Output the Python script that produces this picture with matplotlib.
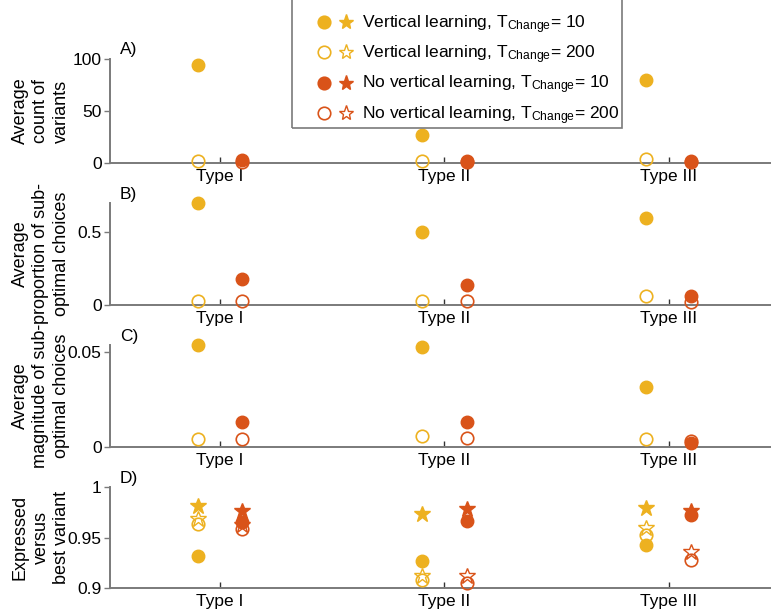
import matplotlib
matplotlib.use("Agg")
import matplotlib.pyplot as plt
from matplotlib.lines import Line2D
from matplotlib.patches import Rectangle
from matplotlib.legend_handler import HandlerTuple

plt.rcParams["font.family"] = ["Liberation Sans", "DejaVu Sans"]
plt.rcParams["mathtext.fontset"] = "custom"
plt.rcParams["mathtext.rm"] = "Liberation Sans"
plt.rcParams["mathtext.it"] = "Liberation Sans"

YELLOW = "#EDB120"
RED = "#D95319"
AXIS_GREY = "#7a7a7a"

types = ["Type I", "Type II", "Type III"]

# A) average count of variants
count_vl10 = [94, 27, 80]
count_vl200 = [2, 2, 4]
count_nv10 = [3, 2, 2]
count_nv200 = [1, 1, 1]

# B) average proportion of sub-optimal choices
prop_vl10 = [0.70, 0.50, 0.60]
prop_vl200 = [0.03, 0.03, 0.06]
prop_nv10 = [0.18, 0.14, 0.06]
prop_nv200 = [0.03, 0.03, 0.02]

# C) average magnitude of sub-optimal choices
mag_vl10 = [0.0537, 0.0526, 0.0316]
mag_vl200 = [0.004, 0.0058, 0.004]
mag_nv10 = [0.0132, 0.0132, 0.002]
mag_nv200 = [0.004, 0.005, 0.003]

# D) expressed versus best variant (circles and stars)
expr_vl10 = [0.932, 0.927, 0.943]
expr_vl200 = [0.963, 0.908, 0.952]
expr_nv10 = [0.965, 0.966, 0.972]
expr_nv200 = [0.958, 0.905, 0.928]
star_vl10 = [0.981, 0.973, 0.979]
star_vl200 = [0.968, 0.912, 0.959]
star_nv10 = [0.976, 0.978, 0.976]
star_nv200 = [0.962, 0.912, 0.936]

labels = [r"Vertical learning, T$_{\mathrm{Change}}$= 10",
          r"Vertical learning, T$_{\mathrm{Change}}$= 200",
          r"No vertical learning, T$_{\mathrm{Change}}$= 10",
          r"No vertical learning, T$_{\mathrm{Change}}$= 200"]

W, H = 771, 611
fig = plt.figure(figsize=(W / 100, H / 100), dpi=100)

# panel boxes in pixels: (top, bottom)
boxes = [(59, 163), (203, 305), (345, 447), (487, 588)]
left_px = 110
FS = 12.5

x = [1, 2, 3]
off = 0.1
xl = [v - off for v in x]
xr = [v + off for v in x]

CIRC = dict(marker="o", markersize=9, linestyle="none", clip_on=False, zorder=3)
STAR = dict(marker="*", markersize=12, linestyle="none", clip_on=False, zorder=4)


def make_axes(top, bottom):
    ax = fig.add_axes([left_px / W, 1 - bottom / H, 1 - left_px / W, (bottom - top) / H])
    for s in ("top", "right"):
        ax.spines[s].set_visible(False)
    for s in ("left", "bottom"):
        ax.spines[s].set_color(AXIS_GREY)
        ax.spines[s].set_linewidth(1.4)
    ax.set_xlim(0.51, 3.455)
    ax.set_xticks(x)
    ax.set_xticklabels(types)
    ax.tick_params(axis="x", direction="in", length=4, width=1, color="#333333",
                   labelsize=FS, pad=4)
    ax.tick_params(axis="y", direction="out", length=4, width=1, color=AXIS_GREY,
                   labelsize=FS, pad=2)
    ax.yaxis.set_label_coords(-0.06, 0.5)
    return ax


def circles(ax, vl10, vl200, nv10, nv200):
    ax.plot(xl, vl10, markerfacecolor=YELLOW, markeredgecolor=YELLOW, **CIRC)
    ax.plot(xl, vl200, markerfacecolor="none", markeredgecolor=YELLOW, markeredgewidth=1.2, **CIRC)
    ax.plot(xr, nv10, markerfacecolor=RED, markeredgecolor=RED, **CIRC)
    ax.plot(xr, nv200, markerfacecolor="none", markeredgecolor=RED, markeredgewidth=1.2, **CIRC)


def panel_label(ax, s):
    ax.text(0.015, 1.0 + 9 / 102, s, transform=ax.transAxes, fontsize=FS,
            ha="left", va="center")


def ylabel(ax, s):
    ax.set_ylabel(s, fontsize=13, linespacing=1.3, multialignment="center")


# A
axA = make_axes(*boxes[0])
circles(axA, count_vl10, count_vl200, count_nv10, count_nv200)
axA.set_ylim(0, 100)
axA.set_yticks([0, 50, 100])
ylabel(axA, "Average\ncount of\nvariants")
panel_label(axA, "A)")

# B
axB = make_axes(*boxes[1])
circles(axB, prop_vl10, prop_vl200, prop_nv10, prop_nv200)
axB.set_ylim(0, 0.70)
axB.set_yticks([0, 0.5])
axB.set_yticklabels(["0", "0.5"])
ylabel(axB, "Average\nproportion of sub-\noptimal choices")
panel_label(axB, "B)")

# C
axC = make_axes(*boxes[2])
circles(axC, mag_vl10, mag_vl200, mag_nv10, mag_nv200)
axC.set_ylim(0, 0.0537)
axC.set_yticks([0, 0.05])
axC.set_yticklabels(["0", "0.05"])
ylabel(axC, "Average\nmagnitude of sub-\noptimal choices")
panel_label(axC, "C)")

# D
axD = make_axes(*boxes[3])
circles(axD, expr_vl10, expr_vl200, expr_nv10, expr_nv200)
axD.plot(xl, star_vl10, markerfacecolor=YELLOW, markeredgecolor=YELLOW, **STAR)
axD.plot(xl, star_vl200, markerfacecolor="none", markeredgecolor=YELLOW, markeredgewidth=1.0, **STAR)
axD.plot(xr, star_nv10, markerfacecolor=RED, markeredgecolor=RED, **STAR)
axD.plot(xr, star_nv200, markerfacecolor="none", markeredgecolor=RED, markeredgewidth=1.0, **STAR)
axD.set_ylim(0.9, 1.0)
axD.set_yticks([0.9, 0.95, 1.0])
axD.set_yticklabels(["0.9", "0.95", "1"])
ylabel(axD, "Expressed\nversus\nbest variant")
panel_label(axD, "D)")

# legend: circle + star per condition
handles = []
for col, filled in [(YELLOW, True), (YELLOW, False), (RED, True), (RED, False)]:
    fc = col if filled else "none"
    c = Line2D([], [], marker="o", markersize=9, linestyle="none",
               markerfacecolor=fc, markeredgecolor=col, markeredgewidth=1.2)
    s = Line2D([], [], marker="*", markersize=11, linestyle="none",
               markerfacecolor=fc, markeredgecolor=col, markeredgewidth=1.0)
    handles.append((c, s))

leg = fig.legend(handles, labels, handler_map={tuple: HandlerTuple(ndivide=None, pad=0.25)},
                 loc="upper left", bbox_to_anchor=(316 / W, 1 - 13 / H),
                 fontsize=12.5, frameon=False, handlelength=2.2,
                 handletextpad=0.45, labelspacing=0.45, borderpad=0,
                 borderaxespad=0)

# legend box, top edge runs off the figure
fig.patches.append(Rectangle((292 / W, 1 - 128 / H), (622 - 292) / W, 128 / H + 0.02,
                             transform=fig.transFigure, fill=False,
                             edgecolor=AXIS_GREY, linewidth=1.2, zorder=5))

fig.savefig("out.png", dpi=100)
